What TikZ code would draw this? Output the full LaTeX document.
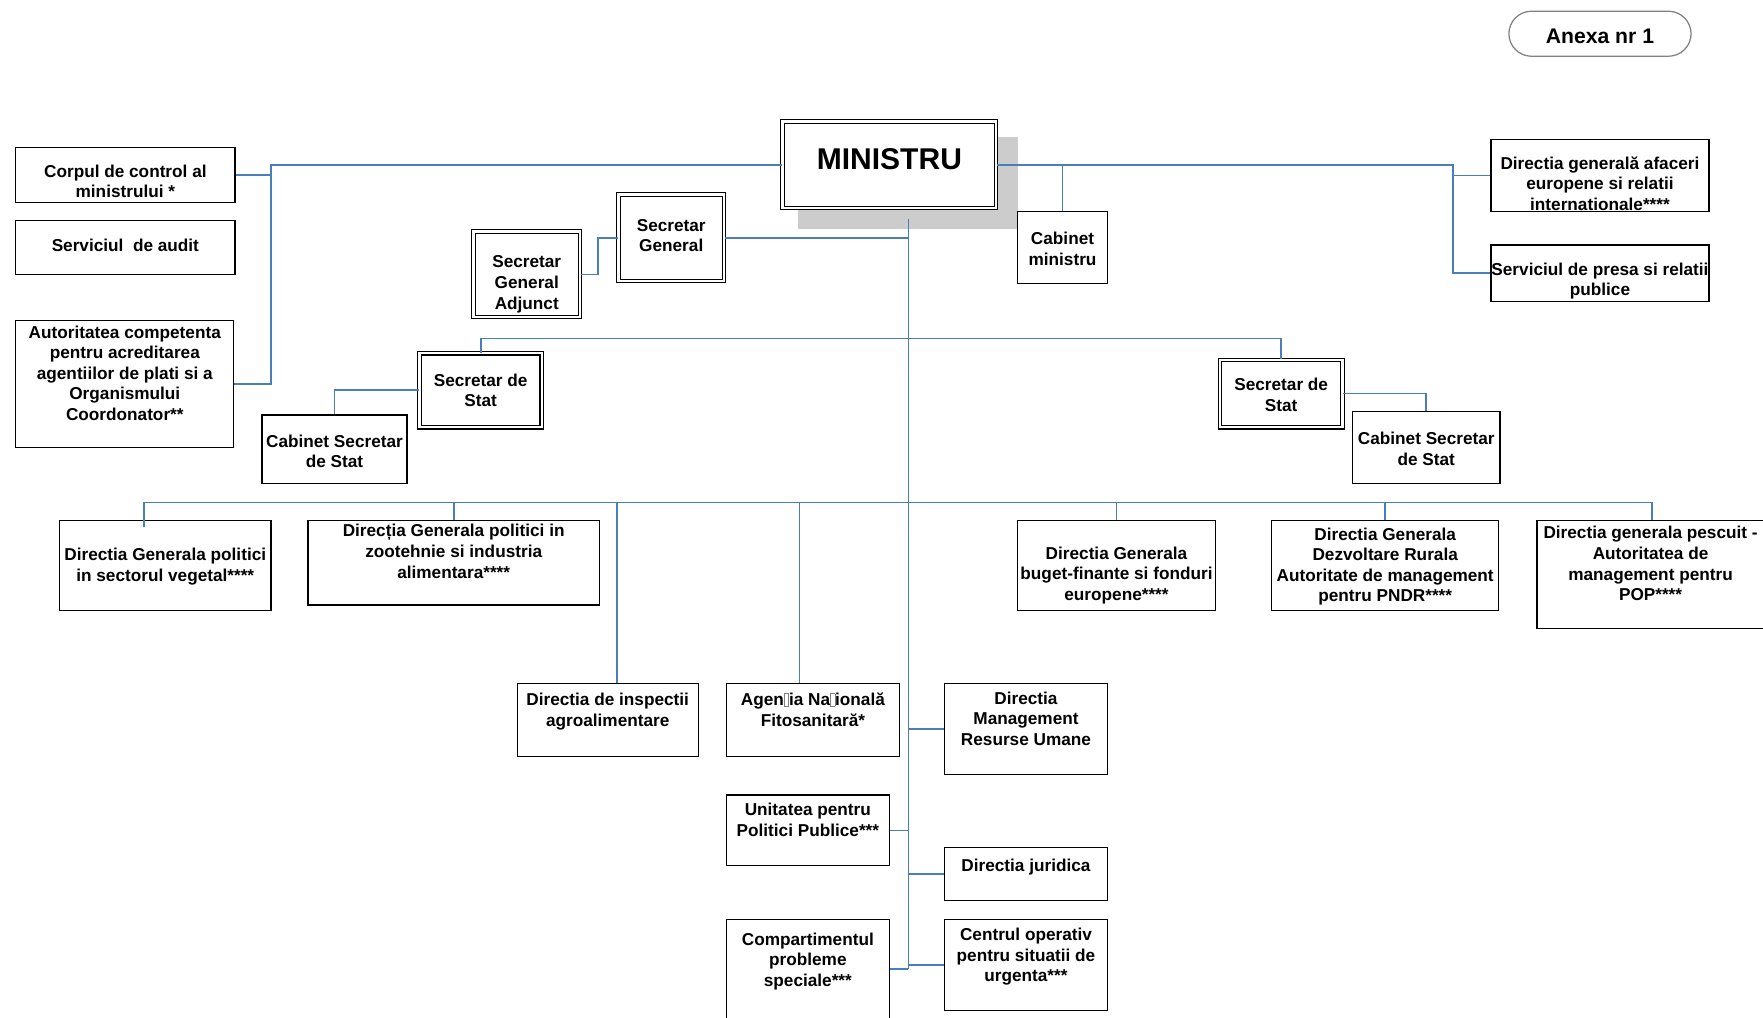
\documentclass[tikz,border=0pt]{standalone}
\usepackage{fontspec}
\setmainfont{Liberation Sans}
\usetikzlibrary{fit}
\definecolor{conncol}{RGB}{74,126,187}
\definecolor{shadowgray}{RGB}{204,204,204}
\definecolor{pillgray}{RGB}{128,128,128}
\newcommand\nogl{{\color{gray}\fboxsep=0pt\fboxrule=0.5pt\fbox{\rule{0pt}{10.5pt}\hspace{3.5pt}}}}
\begin{document}
\begin{tikzpicture}[x=1pt,y=-1pt,
  box/.style={draw=black, line width=1.1pt, fill=white, inner sep=0pt},
  dbox/.style={draw=black, line width=1pt, double=white, double distance=2.2pt, fill=white, inner sep=-2.1pt},
  txt/.style={font=\fontsize{15.3}{18.3}\selectfont\bfseries, align=center, inner sep=0pt, yshift=-2pt,
    execute at begin node=\strut, execute at end node=\strut},
  conn/.style={draw=conncol, line width=1.5pt}
]
\clip (0,0) rectangle (1568,905);
\fill[white] (0,0) rectangle (1568,905);

% header pill
\node[draw=pillgray, line width=1.1pt, rounded corners=20pt, inner sep=0pt, fit={(1342,10)(1504,50)}] (anexa) {};
\node[font=\fontsize{18.8}{22}\selectfont\bfseries, inner sep=0pt] (anexa-t) at (1423,32) {Anexa nr 1};

% minister
\fill[shadowgray] (710,122) rectangle (905,204);
\node[dbox, fit={(694,106)(888,187)}] (ministru) {};
\node[font=\fontsize{26.7}{30}\selectfont\bfseries, inner sep=0pt] (ministru-t) at (791,142) {MINISTRU};

% left column
\node[box, fit={(14,131)(209,180)}] (corpul) {};
\node[txt] (corpul-t) at (111.5,162) {Corpul de control al\\ministrului *};
\node[box, fit={(14,196)(209,244)}] (audit) {};
\node[txt] (audit-t) at (111.5,218) {Serviciul\ \ de audit};
\node[box, fit={(14,285)(208,398)}] (autoritatea) {};
\node[txt] (autoritatea-t) at (111,332.5) {Autoritatea competenta\\pentru acreditarea\\agentiilor de plati si a\\Organismului\\Coordonator**};

% secretaries general
\node[dbox, fit={(419,204)(518,284)}] (sga) {};
\node[txt] (sga-t) at (468.5,252) {Secretar\\General\\Adjunct};
\node[dbox, fit={(548,171)(646,252)}] (sg) {};
\node[txt] (sg-t) at (597,210) {Secretar\\General};

% cabinet ministru
\node[box, fit={(905,188)(985,252)}] (cabmin) {};
\node[txt] (cabmin-t) at (945,222) {Cabinet\\ministru};

% right column
\node[box, fit={(1326,124)(1520,188)}] (afaceri) {};
\node[txt] (afaceri-t) at (1423,164) {Directia general\u{a} afaceri\\europene si relatii\\internationale****};
\node[box, fit={(1326,218)(1520,268)}] (presa) {};
\node[txt] (presa-t) at (1423,249) {Serviciul de presa si relatii\\publice};

% secretaries of state
\node[dbox, fit={(371,312)(484,382)}] (sdsL) {};
\node[txt] (sdsL-t) at (427.5,348) {Secretar de\\Stat};
\node[dbox, fit={(1083,318)(1196,382)}] (sdsR) {};
\node[txt] (sdsR-t) at (1139.5,352) {Secretar de\\Stat};
\node[box, fit={(233,369)(362,430)}] (cabL) {};
\node[txt] (cabL-t) at (297.5,402) {Cabinet Secretar\\de Stat};
\node[box, fit={(1203,366)(1334,430)}] (cabR) {};
\node[txt] (cabR-t) at (1268.5,400) {Cabinet Secretar\\de Stat};

% general directorates
\node[box, fit={(53,463)(241,543)}] (veg) {};
\node[txt] (veg-t) at (147,503) {Directia Generala politici\\in sectorul vegetal****};
\node[box, fit={(274,463)(533,538)}] (zoo) {};
\node[txt] (zoo-t) at (403.5,491) {Direcția Generala politici in\\zootehnie si industria\\alimentara****};
\node[box, fit={(905,463)(1081,543)}] (buget) {};
\node[txt] (buget-t) at (993,511) {Directia Generala\\buget-finante si fonduri\\europene****};
\node[box, fit={(1131,463)(1333,543)}] (pndr) {};
\node[txt] (pndr-t) at (1232,503) {Directia Generala\\Dezvoltare Rurala\\Autoritate de management\\pentru PNDR****};
\node[box, fit={(1367,463)(1572,559)}] (pesc) {};
\node[txt] (pesc-t) at (1468,502) {Directia generala pescuit -\\Autoritatea de\\management pentru\\POP****};

% lower units
\node[box, fit={(460,608)(621,673)}] (insp) {};
\node[txt] (insp-t) at (540.5,632) {Directia de inspectii\\agroalimentare};
\node[box, fit={(646,608)(800,673)}] (agentia) {};
\node[txt] (agentia-t) at (723,632) {Agen\nogl ia Na\nogl ional\u{a}\\Fitosanitar\u{a}*};
\node[box, fit={(840,608)(985,689)}] (dmru) {};
\node[txt] (dmru-t) at (912.5,640) {Directia\\Management\\Resurse Umane};
\node[box, fit={(646,707)(791,770)}] (upp) {};
\node[txt] (upp-t) at (718.5,730) {Unitatea pentru\\Politici Publice***};
\node[box, fit={(840,754)(985,801)}] (jur) {};
\node[txt] (jur-t) at (912.5,769) {Directia juridica};
\node[box, fit={(646,818)(791,906)}] (comp) {};
\node[txt] (comp-t) at (718.5,854) {Compartimentul\\probleme\\speciale***};
\node[box, fit={(840,818)(985,899)}] (centrul) {};
\node[txt] (centrul-t) at (912.5,850) {Centrul operativ\\pentru situatii de\\urgenta***};

% junction coordinates
\coordinate (lbus) at (241,147);
\coordinate (rbus) at (1292,147);
\coordinate (sgaj) at (532,244);
\coordinate (ctop) at (808,195);
\coordinate (cbot) at (808,862);
\coordinate (sbus) at (808,301);
\coordinate (dbus) at (808,447);
\coordinate (vegdrop) at (128,469);
\coordinate (inspdrop) at (549,447);
\coordinate (agdrop) at (711,447);

% connectors
\draw[conn] (ministru.west) -- (ministru.west -| lbus) |- (autoritatea.east);
\draw[conn] (corpul.east) -- (corpul.east -| lbus);
\draw[conn] (ministru.east) -- (ministru.east -| rbus) |- (presa.west);
\draw[conn] (afaceri.west) -- (afaceri.west -| rbus);
\draw[conn] (cabmin.north) -- (cabmin.north |- ministru.east);
\draw[conn] (ctop) -- (cbot);
\draw[conn] (sg.east) -- (sg.east -| ctop);
\draw[conn] (sga.east) -- (sga.east -| sgaj) |- (sg.west);
\draw[conn] (sdsL.north) -- (sdsL.north |- sbus) -- (sdsR.north |- sbus) -- (sdsR.north);
\draw[conn] (sdsL.west) -| (cabL.north);
\draw[conn] (sdsR.east) -| (cabR.north);
\draw[conn] (vegdrop) -- (vegdrop |- dbus) -- (pesc.north |- dbus) -- (pesc.north);
\draw[conn] (zoo.north) -- (zoo.north |- dbus);
\draw[conn] (buget.north) -- (buget.north |- dbus);
\draw[conn] (pndr.north) -- (pndr.north |- dbus);
\draw[conn] (inspdrop) -- (inspdrop |- insp.north);
\draw[conn] (agdrop) -- (agdrop |- agentia.north);
\draw[conn] (dmru.west) -- (dmru.west -| ctop);
\draw[conn] (jur.west) -- (jur.west -| ctop);
\draw[conn] (centrul.west) -- (centrul.west -| ctop);
\draw[conn] (upp.east) -- (upp.east -| ctop);
\draw[conn] (comp.east) -- (comp.east -| ctop);
\end{tikzpicture}
\end{document}
